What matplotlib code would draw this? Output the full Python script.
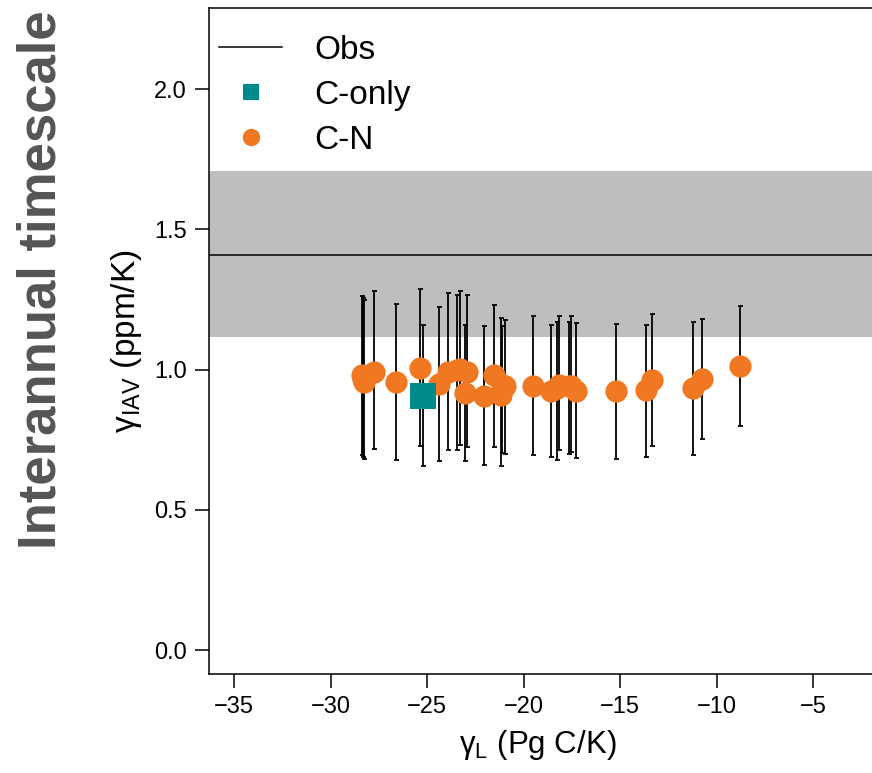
import matplotlib
matplotlib.use('Agg')
import matplotlib.pyplot as plt
from matplotlib.lines import Line2D

plt.rcParams['font.family'] = ['Liberation Sans', 'DejaVu Sans']
plt.rcParams['mathtext.fontset'] = 'custom'
plt.rcParams['mathtext.rm'] = 'Liberation Sans'

# observed gamma_IAV and its uncertainty band
obs_mean = 1.41
obs_low = 1.118
obs_high = 1.707

# C-N model ensemble: gamma_L, gamma_IAV and error bar limits
cn_gl = [-28.40, -28.32, -28.27, -27.76, -26.62, -25.36, -24.39, -23.91, -23.47, -23.30,
         -22.95, -23.04, -22.03, -21.54, -21.17, -21.14, -20.97, -19.50, -18.58, -18.29,
         -18.15, -17.65, -17.56, -17.29, -15.21, -13.66, -13.36, -11.20, -10.77, -8.78]
cn_iav = [0.980, 0.965, 0.957, 0.993, 0.956, 1.006, 0.949, 0.992, 1.000, 1.004,
          0.992, 0.917, 0.907, 0.980, 0.911, 0.946, 0.940, 0.943, 0.925, 0.935,
          0.946, 0.943, 0.943, 0.925, 0.923, 0.926, 0.964, 0.935, 0.967, 1.012]
cn_lo = [0.696, 0.690, 0.680, 0.718, 0.679, 0.726, 0.673, 0.712, 0.712, 0.732,
         0.723, 0.673, 0.661, 0.723, 0.658, 0.702, 0.699, 0.694, 0.690, 0.679,
         0.714, 0.700, 0.706, 0.685, 0.681, 0.690, 0.729, 0.696, 0.752, 0.800]
cn_hi = [1.262, 1.255, 1.250, 1.279, 1.235, 1.286, 1.224, 1.274, 1.265, 1.280,
         1.265, 1.158, 1.155, 1.232, 1.185, 1.155, 1.176, 1.190, 1.158, 1.170,
         1.190, 1.170, 1.190, 1.167, 1.164, 1.158, 1.200, 1.170, 1.179, 1.226]

# C-only model
co_gl = [-25.20]
co_iav = [0.906]
co_lo = [0.655]
co_hi = [1.158]

xticks = [-35, -30, -25, -20, -15, -10, -5]
yticks = [0.0, 0.5, 1.0, 1.5, 2.0]

orange = '#f07822'
teal = '#008b8b'

fig = plt.figure(figsize=(8.72, 7.73), dpi=100)
W, H = 872, 773
ax = fig.add_axes([209.3 / W, 1 - 674 / H, (872 - 209.3) / W, (674 - 8) / H])

ax.axhspan(obs_low, obs_high, color='#bebebe', lw=0, zorder=0)
ax.axhline(obs_mean, color='black', lw=1.1, zorder=1)

cn_err = [[v - l for v, l in zip(cn_iav, cn_lo)], [h - v for v, h in zip(cn_iav, cn_hi)]]
co_err = [[v - l for v, l in zip(co_iav, co_lo)], [h - v for v, h in zip(co_iav, co_hi)]]

ax.errorbar(cn_gl, cn_iav, yerr=cn_err, fmt='none', ecolor='black', elinewidth=1.3,
            capsize=1.8, capthick=1.3, zorder=2)
ax.errorbar(co_gl, co_iav, yerr=co_err, fmt='none', ecolor='black', elinewidth=1.3,
            capsize=1.8, capthick=1.3, zorder=2)
ax.plot(cn_gl, cn_iav, 'o', color=orange, ms=16, mew=0, zorder=3)
ax.plot(co_gl, co_iav, 's', color=teal, ms=19, mew=0, zorder=4)

ax.set_xlim(-36.29, -1.94)
ax.set_ylim(-0.0856, 2.29)
ax.set_xticks(xticks)
ax.set_xticklabels(['\u2212' + str(abs(t)) for t in xticks])
ax.set_yticks(yticks)
ax.set_yticklabels(['%.1f' % t for t in yticks])
ax.tick_params(direction='out', length=10, width=1.1, labelsize=17, pad=6)
ax.spines['right'].set_visible(False)
for s in ['left', 'bottom', 'top']:
    ax.spines[s].set_linewidth(1.1)

handles = [Line2D([], [], color='black', lw=1.1),
           Line2D([], [], marker='s', ls='none', color=teal, ms=11.5, mew=0),
           Line2D([], [], marker='o', ls='none', color=orange, ms=12.5, mew=0)]
fig.legend(handles, ['Obs', 'C-only', 'C-N'], loc='upper left',
           bbox_to_anchor=(219 / W, 1 - 35 / H), frameon=False, fontsize=24,
           handlelength=1.9, handletextpad=0.95, labelspacing=0.42,
           borderpad=0, borderaxespad=0)

fig.text(127 / W, 1 - 341 / H, '\u03b3$_{\\mathregular{IAV}}$ (ppm/K)', rotation=90,
         ha='center', va='center', fontsize=24)
fig.text(538 / W, 1 - 745 / H, '\u03b3$_{\\mathregular{L}}$ (Pg C/K)',
         ha='center', va='center', fontsize=22.5)
fig.text(42 / W, 1 - 280 / H, 'Interannual timescale', rotation=90, ha='center',
         va='center', fontsize=38, fontweight='bold', color='#555555')

fig.savefig('out.png', dpi=100)
